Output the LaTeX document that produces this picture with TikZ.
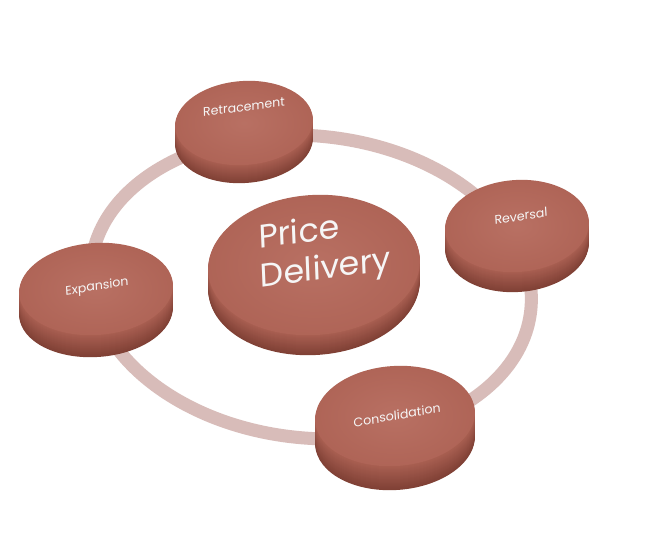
\documentclass[tikz,border=0pt]{standalone}
\usepackage{fontspec}
\setmainfont{Poppins}
\usetikzlibrary{shapes.geometric}
\definecolor{ringpink}{RGB}{216,188,185}
\definecolor{disktop}{RGB}{180,103,89}
\definecolor{diskside}{RGB}{105,48,38}
\definecolor{lbltext}{RGB}{246,246,246}

\begin{document}
\begin{tikzpicture}[
  x=1pt, y=-1pt,
  face/.style={ellipse, inner sep=0pt, shading=radial,
               inner color=disktop!94!white, outer color=disktop!97!black},
  lbl/.style={align=left, inner sep=0pt, text=lbltext, xslant=0.1},
]
  \useasboundingbox[fill=white] (0,0) rectangle (666,553);

  % ring behind the disks
  \draw[ringpink, line width=13pt, rotate around={-6:(311,287)}]
    (311,287) ellipse [x radius=221, y radius=151];

  % disks: name/x/y/rx/ry/thickness/label x/label y/label angle/font size/label
  \foreach \nm/\cx/\cy/\rx/\ry/\th/\tx/\ty/\ang/\fs/\lb in {
      ret/244/123/69/42/18/244/107/7/12.5/Retracement,
      exp/96/289/77/46/22/97/287/9/12.5/Expansion,
      rev/517/226/72/46/20/521/216/9/12.5/Reversal,
      pd/314/265/106/70/20/325/251/8/33/{Price\\Delivery},
      con/395/416/80/50/24/397/415/10/12.5/Consolidation}{
    % side, stacked from the bottom up
    \foreach \k in {\th,...,1}{
      \pgfmathtruncatemacro{\pc}{15+55*\k/\th}
      \fill[diskside!\pc!disktop, rotate around={4:(\cx,\cy+\k)}]
        (\cx,\cy+\k) ellipse [x radius=\rx, y radius=\ry];
    }
    % top face
    \node[face, minimum width=2*\rx pt, minimum height=2*\ry pt, rotate=4]
      (\nm) at (\cx,\cy) {};
    % label
    \node[lbl, rotate=\ang,
          font=\fontsize{\fs pt}{1.2\dimexpr\fs pt\relax}\selectfont]
      (\nm-txt) at (\tx,\ty) {\lb};
  }
\end{tikzpicture}
\end{document}
